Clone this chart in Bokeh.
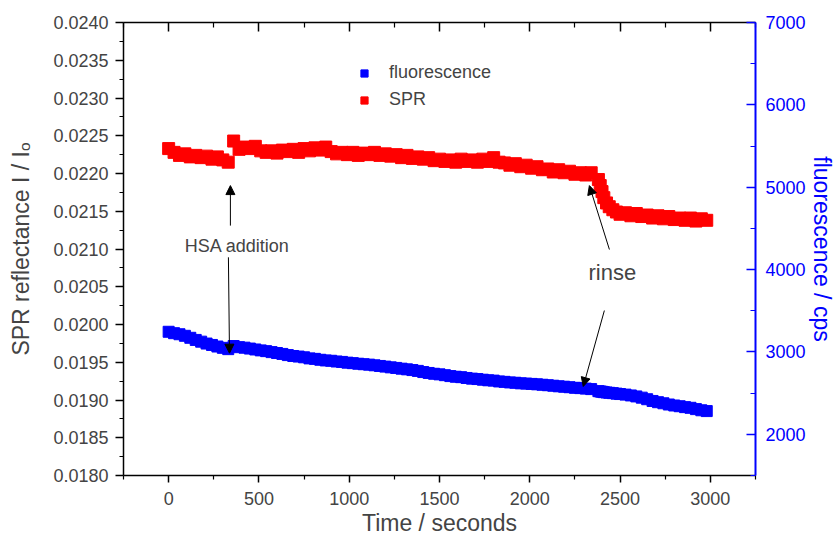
from bokeh.plotting import figure
from bokeh.models import (Range1d, LinearAxis, FixedTicker, Legend, LegendItem,
                          Arrow, NormalHead, Label, PrintfTickFormatter)
from bokeh.embed import file_html
from bokeh.resources import INLINE

# ---------------- data ----------------
time_a = [0, 30, 60, 90, 120, 150, 180, 210, 240, 270,
          300, 330, 360, 390, 420, 450, 480, 510, 540, 570,
          600, 630, 660, 690, 720, 750, 780, 810, 840, 870,
          900, 930, 960, 990, 1020, 1050, 1080, 1110, 1140, 1170,
          1200, 1230, 1260, 1290, 1320, 1350, 1380, 1410, 1440, 1470,
          1500, 1530, 1560, 1590, 1620, 1650, 1680, 1710, 1740, 1770,
          1800, 1830, 1860, 1890, 1920, 1950, 1980, 2010, 2040, 2070,
          2100, 2130, 2160, 2190, 2220, 2250, 2280, 2310, 2340]

spr_a = [0.02233, 0.02228, 0.02224, 0.02226, 0.02222, 0.02224, 0.02221, 0.02223, 0.02219, 0.02222,
         0.02218, 0.02215, 0.02243, 0.02232, 0.02235, 0.02233, 0.02236, 0.02230, 0.02228, 0.02230,
         0.02227, 0.02231, 0.02229, 0.02232, 0.02228, 0.02233, 0.02230, 0.02234, 0.02231, 0.02235,
         0.02229, 0.02226, 0.02228, 0.02225, 0.02228, 0.02224, 0.02227, 0.02225, 0.02228, 0.02224,
         0.02226, 0.02223, 0.02225, 0.02221, 0.02224, 0.02220, 0.02222, 0.02219, 0.02221, 0.02217,
         0.02219, 0.02216, 0.02218, 0.02215, 0.02219, 0.02216, 0.02218, 0.02215, 0.02219, 0.02216,
         0.02221, 0.02215, 0.02214, 0.02211, 0.02213, 0.02209, 0.02211, 0.02207, 0.02209, 0.02205,
         0.02206, 0.02202, 0.02205, 0.02201, 0.02203, 0.02199, 0.02201, 0.02198, 0.02201]

fluor_a = [3245, 3228, 3215, 3196, 3172, 3146, 3125, 3102, 3085, 3066,
           3050, 3034, 3072, 3058, 3052, 3041, 3030, 3019, 3010, 2998,
           2987, 2976, 2962, 2951, 2944, 2935, 2922, 2916, 2905, 2897,
           2893, 2884, 2879, 2870, 2864, 2857, 2851, 2846, 2838, 2830,
           2822, 2813, 2806, 2797, 2789, 2780, 2770, 2756, 2745, 2735,
           2728, 2718, 2707, 2699, 2694, 2684, 2676, 2671, 2663, 2656,
           2652, 2642, 2637, 2630, 2626, 2619, 2616, 2612, 2607, 2602,
           2596, 2590, 2583, 2578, 2572, 2565, 2561, 2555, 2549]

time_b = [2380, 2390, 2400, 2410, 2425, 2440, 2460, 2480, 2500,
          2530, 2560, 2590, 2620, 2650, 2680, 2710, 2740, 2770, 2800,
          2830, 2860, 2890, 2920, 2950, 2980]

spr_b = [0.02192, 0.02184, 0.02176, 0.02168, 0.02161, 0.02156, 0.02152, 0.02149, 0.02146,
         0.02148, 0.02144, 0.02147, 0.02143, 0.02145, 0.02141, 0.02144, 0.02140, 0.02143, 0.02139,
         0.02141, 0.02138, 0.02141, 0.02137, 0.02140, 0.02138]

fluor_b = [2524, 2520, 2517, 2512, 2508, 2504, 2500, 2494, 2489,
           2482, 2472, 2460, 2445, 2426, 2405, 2390, 2377, 2362, 2350,
           2341, 2330, 2322, 2306, 2292, 2282]

x_ticks = [0, 500, 1000, 1500, 2000, 2500, 3000]
x_minor = [-250, 250, 750, 1250, 1750, 2250, 2750, 3250]
spr_ticks = [0.0180, 0.0185, 0.0190, 0.0195, 0.0200, 0.0205, 0.0210,
             0.0215, 0.0220, 0.0225, 0.0230, 0.0235, 0.0240]
spr_minor = [0.01825, 0.01875, 0.01925, 0.01975, 0.02025, 0.02075,
             0.02125, 0.02175, 0.02225, 0.02275, 0.02325, 0.02375]
fl_ticks = [2000, 3000, 4000, 5000, 6000, 7000]
fl_minor = [1500, 2500, 3500, 4500, 5500, 6500]

FONT = "Liberation Sans"
RED = "#FF0000"
BLUE = "#0000FF"

p = figure(width=838, height=538, x_range=Range1d(-250, 3250), y_range=Range1d(0.018, 0.024),
           output_backend="svg", toolbar_location=None,
           min_border_left=123, min_border_right=83, min_border_top=22, min_border_bottom=63)
p.extra_y_ranges = {"fl": Range1d(1500, 7000)}
p.xgrid.visible = False
p.ygrid.visible = False
p.outline_line_color = None
p.background_fill_color = "white"
p.border_fill_color = "white"

# data
rb_a = p.scatter(time_a, fluor_a, marker="square", size=11, color=BLUE, y_range_name="fl")
rb_b = p.scatter(time_b, fluor_b, marker="square", size=11, color=BLUE, y_range_name="fl")
rr_a = p.scatter(time_a, spr_a, marker="square", size=12, color=RED)
rr_b = p.scatter(time_b, spr_b, marker="square", size=12, color=RED)

# bottom axis
xa = p.xaxis[0]
xa.ticker = FixedTicker(ticks=x_ticks, minor_ticks=x_minor)
xa.formatter = PrintfTickFormatter(format="%d")
xa.axis_label = "Time / seconds"
xa.axis_label_text_font = FONT
xa.axis_label_text_font_size = "23px"
xa.axis_label_text_font_style = "normal"
xa.axis_label_standoff = 2
xa.major_label_text_font = FONT
xa.major_label_text_font_size = "18px"
xa.major_label_standoff = 9
xa.major_tick_out = 7
xa.major_tick_in = 0
xa.minor_tick_out = 4
xa.minor_tick_in = 0
xa.axis_line_width = 1.5
xa.major_tick_line_width = 1.5
xa.minor_tick_line_width = 1.2

# left axis
ya = p.yaxis[0]
ya.ticker = FixedTicker(ticks=spr_ticks, minor_ticks=spr_minor)
ya.formatter = PrintfTickFormatter(format="%.4f")
ya.axis_label = "SPR reflectance I / I\u2092"
ya.axis_label_text_font = FONT
ya.axis_label_text_font_size = "23px"
ya.axis_label_text_font_style = "normal"
ya.axis_label_standoff = 16
ya.major_label_text_font = FONT
ya.major_label_text_font_size = "18px"
ya.major_label_standoff = 7
ya.major_tick_out = 8
ya.major_tick_in = 0
ya.minor_tick_out = 4
ya.minor_tick_in = 0
ya.axis_line_width = 1.5
ya.major_tick_line_width = 1.5
ya.minor_tick_line_width = 1.2

# top axis (ticks only)
ta = LinearAxis(ticker=FixedTicker(ticks=x_ticks, minor_ticks=x_minor),
                major_label_text_font_size="0px", major_label_standoff=0,
                major_tick_in=9, major_tick_out=0, minor_tick_in=5, minor_tick_out=0,
                axis_line_width=1.5, major_tick_line_width=1.5, minor_tick_line_width=1.2)
ta.major_label_overrides = {t: "" for t in x_ticks}
p.add_layout(ta, "above")

# right axis (fluorescence)
ra = LinearAxis(y_range_name="fl", ticker=FixedTicker(ticks=fl_ticks, minor_ticks=fl_minor),
                formatter=PrintfTickFormatter(format="%d"),
                axis_label="fluorescence / cps",
                axis_label_text_font=FONT, axis_label_text_font_size="23px",
                axis_label_text_font_style="normal", axis_label_text_color=BLUE,
                axis_label_standoff=0,
                major_label_text_font=FONT, major_label_text_font_size="18px",
                major_label_text_color=BLUE, major_label_standoff=10,
                major_tick_in=9, major_tick_out=0, minor_tick_in=5, minor_tick_out=0,
                axis_line_color=BLUE, major_tick_line_color=BLUE, minor_tick_line_color=BLUE,
                axis_line_width=2, major_tick_line_width=1.5, minor_tick_line_width=1.2)
p.add_layout(ra, "right")

# legend
legend = Legend(items=[LegendItem(label="fluorescence", renderers=[rb_a]),
                       LegendItem(label="SPR", renderers=[rr_a])],
                location=(232, 365), padding=0, margin=0, spacing=6,
                glyph_width=18, glyph_height=18, label_height=18, label_standoff=16,
                label_text_font=FONT, label_text_font_size="18px",
                border_line_color=None, background_fill_alpha=0)
p.add_layout(legend)

# annotations
def arrow(x0, y0, x1, y1):
    p.add_layout(Arrow(end=NormalHead(size=9, fill_color="black", line_color="black", line_width=1),
                       x_start=x0, y_start=y0, x_end=x1, y_end=y1,
                       line_color="black", line_width=1))

arrow(342, 0.02131, 342, 0.02184)
arrow(331, 0.02089, 337, 0.01962)
arrow(2441, 0.020993, 2330, 0.02184)
arrow(2413, 0.020185, 2296, 0.019179)

p.add_layout(Label(x=380, y=0.021046, text="HSA addition", text_align="center",
                   text_baseline="middle", text_font=FONT, text_font_size="18px"))
p.add_layout(Label(x=2457, y=0.020689, text="rinse", text_align="center",
                   text_baseline="middle", text_font=FONT, text_font_size="22px"))

open("out.html", "w").write(file_html(p, INLINE))
